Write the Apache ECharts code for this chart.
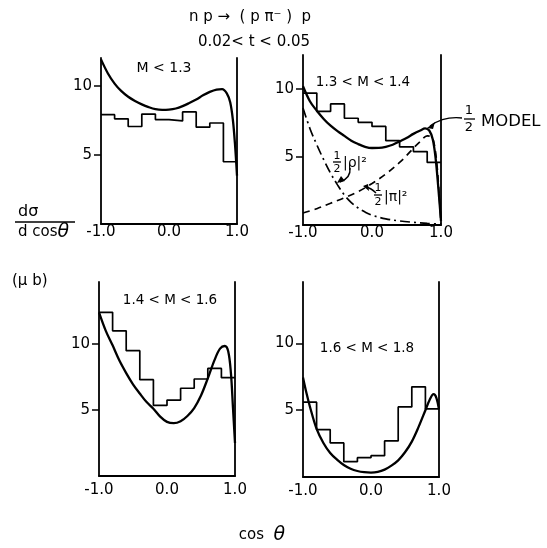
<!DOCTYPE html>
<html>
<head>
<meta charset="utf-8">
<script src="https://cdn.jsdelivr.net/npm/echarts@6/dist/echarts.min.js"></script>
<style>
  html, body { margin: 0; padding: 0; background: #fff; }
  #main { width: 547px; height: 548px; }
</style>
</head>
<body>
<div id="main"></div>
<script>
// cos(theta) bin edges, shared by all four histograms
var binEdges = [-1.0, -0.8, -0.6, -0.4, -0.2, 0.0, 0.2, 0.4, 0.6, 0.8, 1.0];

// histogram heights (microbarn), one value per bin
var hist1 = [7.9, 7.6, 7.05, 7.95, 7.55, 7.45, 8.1, 7.0, 7.3, 4.5];     // M < 1.3
var hist2 = [9.7, 8.35, 8.9, 7.85, 7.55, 7.25, 6.2, 5.75, 5.4, 4.6];    // 1.3 < M < 1.4
var hist3 = [12.4, 11.0, 9.5, 7.3, 5.35, 5.75, 6.65, 7.35, 8.15, 7.45]; // 1.4 < M < 1.6
var hist4 = [5.6, 3.55, 2.55, 1.15, 1.45, 1.6, 2.7, 5.25, 6.75, 5.1];   // 1.6 < M < 1.8

// model curves
var model1X = [-1.0, -0.9, -0.8, -0.7, -0.6, -0.5, -0.4, -0.3, -0.2, -0.1, 0.0, 0.1, 0.2, 0.3, 0.4, 0.5, 0.6, 0.7, 0.78, 0.85, 0.9, 0.94, 0.97, 1.0];
var model1Y = [11.9, 10.9, 10.15, 9.6, 9.2, 8.9, 8.65, 8.45, 8.3, 8.25, 8.27, 8.35, 8.52, 8.75, 9.0, 9.3, 9.55, 9.72, 9.75, 9.45, 8.8, 7.5, 5.8, 3.5];

var model2X = [-1.0, -0.9, -0.8, -0.7, -0.6, -0.5, -0.4, -0.3, -0.2, -0.1, 0.0, 0.1, 0.2, 0.3, 0.4, 0.5, 0.6, 0.7, 0.77, 0.83, 0.88, 0.92, 0.96, 1.0];
var model2Y = [10.2, 9.1, 8.4, 7.8, 7.3, 6.9, 6.55, 6.2, 5.95, 5.75, 5.66, 5.67, 5.75, 5.9, 6.15, 6.4, 6.7, 6.95, 7.1, 6.95, 6.3, 5.0, 2.8, 0.3];
var piX = [-1.0, -0.8, -0.6, -0.4, -0.2, 0.0, 0.2, 0.4, 0.5, 0.6, 0.7, 0.8, 0.86, 0.9, 0.94, 0.97, 1.0];
var piY = [0.88, 1.2, 1.6, 2.0, 2.45, 3.05, 3.75, 4.6, 5.1, 5.65, 6.15, 6.55, 6.5, 6.0, 4.5, 2.5, 0.1];
var rhoX = [-1.0, -0.9, -0.8, -0.7, -0.6, -0.5, -0.4, -0.3, -0.2, -0.1, 0.0, 0.2, 0.4, 0.6, 0.8, 1.0];
var rhoY = [8.6, 7.1, 5.9, 4.8, 3.8, 2.95, 2.2, 1.65, 1.25, 0.95, 0.72, 0.45, 0.3, 0.2, 0.12, 0.06];

var model3X = [-1.0, -0.9, -0.8, -0.7, -0.6, -0.5, -0.4, -0.3, -0.2, -0.1, 0.0, 0.1, 0.2, 0.3, 0.4, 0.5, 0.6, 0.7, 0.78, 0.85, 0.9, 0.94, 0.97, 1.0];
var model3Y = [12.4, 11.0, 9.9, 8.75, 7.8, 6.95, 6.25, 5.6, 5.1, 4.5, 4.1, 4.0, 4.15, 4.55, 5.15, 6.1, 7.4, 8.8, 9.65, 9.85, 9.45, 7.8, 5.2, 2.5];

var model4X = [-1.0, -0.95, -0.9, -0.8, -0.7, -0.6, -0.5, -0.4, -0.3, -0.2, -0.1, 0.0, 0.1, 0.2, 0.3, 0.4, 0.5, 0.6, 0.7, 0.8, 0.86, 0.92, 0.96, 1.0];
var model4Y = [7.45, 6.3, 5.3, 3.6, 2.55, 1.8, 1.3, 0.9, 0.62, 0.45, 0.36, 0.33, 0.38, 0.55, 0.85, 1.25, 1.85, 2.65, 3.75, 5.0, 5.75, 6.2, 5.95, 5.05];

// y tick labels
var yTicks = [5, 10];
var yMax = [12, 12.5, 14.7, 14.6];

var FONT = '"DejaVu Sans", sans-serif';

function pairs(xs, ys) {
  return xs.map(function (x, i) { return [x, ys[i]]; });
}
function histData(h) {
  // value at each left edge, repeat last at x = 1.0
  return binEdges.map(function (x, i) { return [x, h[Math.min(i, h.length - 1)]]; });
}

var chart = echarts.init(document.getElementById('main'));

var grids = [
  { left: 101, top: 58, width: 136, height: 166 },
  { left: 303, top: 55, width: 138, height: 170 },
  { left: 99, top: 282, width: 136, height: 194 },
  { left: 303, top: 282, width: 136, height: 195 }
];

var xAxes = [], yAxes = [];
grids.forEach(function (g, i) {
  xAxes.push({
    gridIndex: i, type: 'value', min: -1, max: 1, interval: 1,
    axisLine: { onZero: false, lineStyle: { color: '#000', width: 1.8 } },
    axisTick: { show: false },
    splitLine: { show: false },
    axisLabel: {
      color: '#000', fontFamily: FONT, fontSize: 15, margin: i < 2 ? 1 : 7,
      formatter: function (v) { return v.toFixed(1); }
    }
  });
  yAxes.push({
    gridIndex: i, type: 'value', min: 0, max: yMax[i], interval: 5,
    axisLine: { show: true, onZero: false, lineStyle: { color: '#000', width: 1.8 } },
    axisTick: { show: true, customValues: yTicks, length: 7, lineStyle: { color: '#000', width: 1.5 } },
    splitLine: { show: false },
    axisLabel: { customValues: yTicks, color: '#000', fontFamily: FONT, fontSize: 15, margin: 9 }
  });
  yAxes.push({
    gridIndex: i, type: 'value', min: 0, max: yMax[i], position: 'right',
    axisLine: { show: true, onZero: false, lineStyle: { color: '#000', width: 1.8 } },
    axisTick: { show: false }, axisLabel: { show: false }, splitLine: { show: false }
  });
});

function line(i, data, style, smooth) {
  return {
    type: 'line', xAxisIndex: i, yAxisIndex: 2 * i, data: data,
    showSymbol: false, smooth: smooth, silent: true,
    lineStyle: Object.assign({ color: '#000', width: 2.3 }, style)
  };
}
function hist(i, h) {
  return {
    type: 'line', xAxisIndex: i, yAxisIndex: 2 * i, data: histData(h), step: 'end',
    showSymbol: false, silent: true, lineStyle: { color: '#000', width: 1.7 }
  };
}

var series = [
  hist(0, hist1), line(0, pairs(model1X, model1Y), {}, 0.35),
  hist(1, hist2), line(1, pairs(model2X, model2Y), {}, 0.35),
  line(1, pairs(piX, piY), { type: [7, 5], width: 1.7 }, 0.35),
  line(1, pairs(rhoX, rhoY), { type: [10, 4, 2, 4], width: 1.7 }, 0.35),
  hist(2, hist3), line(2, pairs(model3X, model3Y), {}, 0.35),
  hist(3, hist4), line(3, pairs(model4X, model4Y), {}, 0.35)
];

function txt(x, y, s, size, align) {
  return { type: 'text', x: x, y: y, silent: true,
    style: { text: s, fill: '#000', font: size + 'px ' + FONT, align: align || 'center', verticalAlign: 'middle' } };
}
function bar(x1, x2, y) {
  return { type: 'line', silent: true, shape: { x1: x1, y1: y, x2: x2, y2: y }, style: { stroke: '#000', lineWidth: 1.3 } };
}
function arrow(p0, c, p1, head) {
  return [
    { type: 'bezierCurve', silent: true, shape: { x1: p0[0], y1: p0[1], cpx1: c[0], cpy1: c[1], x2: p1[0], y2: p1[1] },
      style: { stroke: '#000', lineWidth: 1.4, fill: null } },
    { type: 'polygon', silent: true, shape: { points: head }, style: { fill: '#000' } }
  ];
}

var graphics = [
  txt(250, 17, 'n p →  ( p π⁻ )  p', 15),
  txt(254, 42, '0.02< t < 0.05', 15),
  txt(164, 68, 'M < 1.3', 14),
  txt(363, 82, '1.3 < M < 1.4', 13.5),
  txt(170, 300, '1.4 < M < 1.6', 13.5),
  txt(367, 348, '1.6 < M < 1.8', 13.5),
  // 1/2 MODEL
  txt(469, 111, '1', 13), bar(464, 475, 119), txt(469, 128, '2', 13),
  txt(481, 122, 'MODEL', 16.5, 'left'),
  // 1/2 |rho|^2
  txt(337, 156, '1', 11), bar(333, 341, 162), txt(337, 169, '2', 11),
  txt(343, 163, '|ρ|²', 14, 'left'),
  // 1/2 |pi|^2
  txt(378, 188, '1', 11), bar(374, 382, 195), txt(378, 202, '2', 11),
  txt(384, 197, '|π|²', 14, 'left'),
  // y axis label
  txt(18, 212, 'dσ', 16, 'left'), bar(15, 75, 222),
  { type: 'text', x: 18, y: 232, silent: true,
    style: { text: '{a|d cos}{b|θ}', align: 'left', verticalAlign: 'middle',
      rich: { a: { font: '15px ' + FONT, fill: '#000' }, b: { font: 'italic 19px ' + FONT, fill: '#000' } } } },
  txt(12, 281, '(μ b)', 15, 'left'),
  { type: 'text', x: 262, y: 535, silent: true,
    style: { text: '{a|cos  }{b|θ}', align: 'center', verticalAlign: 'middle',
      rich: { a: { font: '15px ' + FONT, fill: '#000' }, b: { font: 'italic 19px ' + FONT, fill: '#000' } } } }
];
graphics = graphics
  .concat(arrow([462, 118], [444, 116], [430, 126], [[427, 128], [435, 122], [433, 129]]))
  .concat(arrow([350, 168], [351, 178], [340, 182], [[337, 183], [341, 176], [345, 181]]))
  .concat(arrow([376, 193], [371, 188], [366, 187], [[363, 186], [368, 184], [369, 191]]));

chart.setOption({
  animation: false,
  backgroundColor: '#fff',
  grid: grids,
  xAxis: xAxes,
  yAxis: yAxes,
  series: series,
  graphic: graphics
});
</script>
</body>
</html>
